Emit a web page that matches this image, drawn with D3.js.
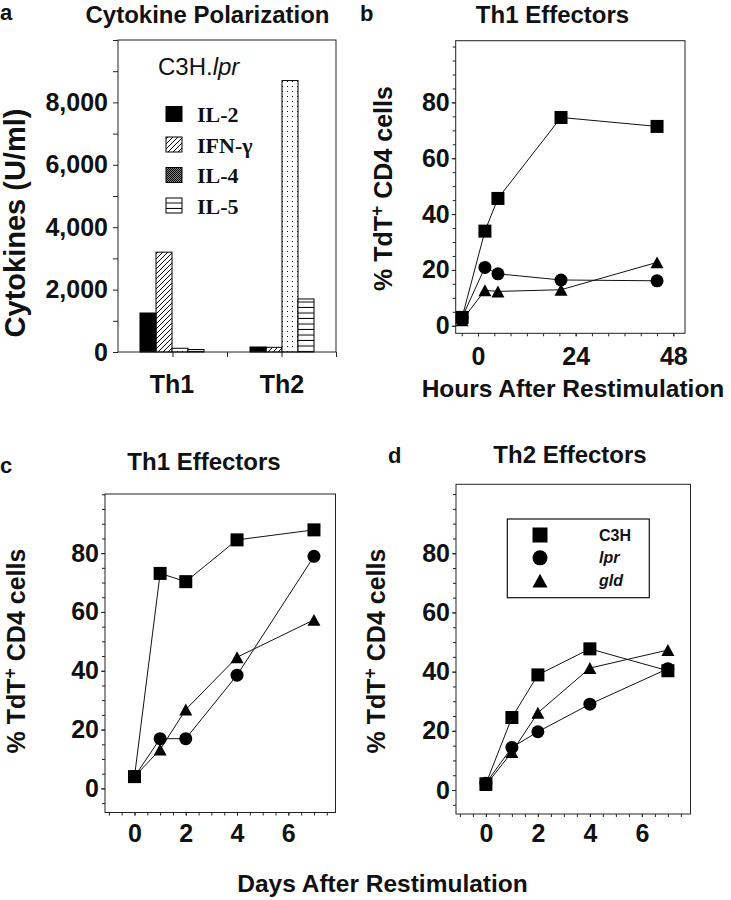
<!DOCTYPE html>
<meta charset="utf-8">
<style>
body { margin: 0; background: #fff; }
svg { display: block; }
.tick line { stroke: #222; }
.axis .domain { display: none; }
.axis text { font-family: 'Liberation Sans', Arial, Helvetica, sans-serif; font-weight: bold; fill: #111; }
</style>
<body>
<script src="https://d3js.org/d3.v7.min.js"></script>
<script>

// ---- data ----
var groups = ["Th1", "Th2"];
var cytokines = ["IL-2", "IFN-\u03b3", "IL-4", "IL-5"];
var cytoTh1 = [1250, 3200, 120, 80];
var cytoTh2 = [160, 150, 8700, 1700];

var strains = ["C3H", "lpr", "gld"];

// panel b: hours after restimulation
var hoursB = [-3.9, 1.7, 4.9, 20.4, 44];
var bC3H = [3, 33.9, 45.6, 74.6, 71.4];
var bLpr = [3, 20.9, 18.6, 16.4, 16.1];
var bGld = [2, 12.7, 12.3, 12.9, 22.7];

// panels c, d: days after restimulation
var days = [0, 1, 2, 4, 7];
var cC3H = [4, 73.1, 70.3, 84.5, 87.9];
var cLpr = [4, 16.9, 16.9, 38.5, 78.9];
var cGld = [4, 13.2, 26.8, 44.6, 57.3];
var dC3H = [2.1, 24.5, 38.9, 47.7, 40.3];
var dLpr = [2.3, 14.4, 19.7, 29, 41];
var dGld = [1.7, 12.8, 26.1, 41.2, 47.3];

var hourLabels = [0, 24, 48];
var dayLabels = [0, 2, 4, 6];
var pctLabels = [0, 20, 40, 60, 80];

var SANS = "'Liberation Sans', Arial, Helvetica, sans-serif";
var SERIF = "'Liberation Serif', 'Times New Roman', serif";

var svg = d3.select("body").append("svg")
  .attr("width", 731)
  .attr("height", 900);

svg.append("rect").attr("width", 731).attr("height", 900).attr("fill", "#fff");

// ---- patterns for the cytokine bars ----
var defs = svg.append("defs");
defs.append("pattern").attr("id", "hatch")
  .attr("patternUnits", "userSpaceOnUse").attr("width", 5).attr("height", 5)
  .append("path")
  .attr("d", "M-1,1 l2,-2 M0,5 l5,-5 M4,6 l2,-2")
  .attr("stroke", "#000").attr("stroke-width", 1);
var dots = defs.append("pattern").attr("id", "dots")
  .attr("patternUnits", "userSpaceOnUse").attr("width", 5).attr("height", 5);
dots.append("rect").attr("width", 5).attr("height", 5).attr("fill", "#fff");
dots.append("rect").attr("x", 2).attr("y", 1).attr("width", 1).attr("height", 1).attr("fill", "#000");
var dense = defs.append("pattern").attr("id", "dense")
  .attr("patternUnits", "userSpaceOnUse").attr("width", 2).attr("height", 2);
dense.append("rect").attr("width", 2).attr("height", 2).attr("fill", "#888");
dense.append("rect").attr("width", 1).attr("height", 1).attr("fill", "#000");
dense.append("rect").attr("x", 1).attr("y", 1).attr("width", 1).attr("height", 1).attr("fill", "#000");
var hl = defs.append("pattern").attr("id", "hlines")
  .attr("patternUnits", "userSpaceOnUse").attr("width", 6).attr("height", 5.5);
hl.append("rect").attr("width", 6).attr("height", 5.5).attr("fill", "#fff");
hl.append("line").attr("x1", 0).attr("x2", 6).attr("y1", 5).attr("y2", 5)
  .attr("stroke", "#000").attr("stroke-width", 1);

var barFill = d3.scaleOrdinal().domain(cytokines)
  .range(["#000", "url(#hatch)", "url(#dots)", "url(#hlines)"]);
var keyFill = d3.scaleOrdinal().domain(cytokines)
  .range(["#000", "url(#hatch)", "url(#dense)", "url(#hlines)"]);

function txt(x, y, s, size, opts) {
  opts = opts || {};
  return svg.append("text")
    .attr("x", x).attr("y", y)
    .attr("text-anchor", opts.anchor || "start")
    .style("font-family", opts.family || SANS)
    .style("font-weight", opts.weight || "bold")
    .style("font-size", size + "px")
    .attr("fill", "#111")
    .text(s);
}

function yTitle(x, y, size) {
  var t = svg.append("text")
    .attr("transform", "translate(" + x + "," + y + ") rotate(-90)")
    .attr("text-anchor", "middle")
    .style("font-family", SANS).style("font-weight", "bold")
    .style("font-size", size + "px")
    .attr("fill", "#111");
  t.append("tspan").text("% TdT");
  t.append("tspan").attr("dy", -9).style("font-size", "70%").text("+");
  t.append("tspan").attr("dy", 9).text(" CD4 cells");
}

function frame(x0, y0, x1, y1) {
  svg.append("rect")
    .attr("x", x0).attr("y", y0)
    .attr("width", x1 - x0).attr("height", y1 - y0)
    .attr("fill", "none").attr("stroke", "#222").attr("stroke-width", 1);
}

function mark(g, shape, cx, cy, s) {
  if (shape === "square") {
    g.append("rect").attr("x", cx - s / 2).attr("y", cy - s / 2)
      .attr("width", s).attr("height", s).attr("fill", "#000");
  } else if (shape === "circle") {
    g.append("circle").attr("cx", cx).attr("cy", cy).attr("r", s / 2).attr("fill", "#000");
  } else {
    var h = s * 0.92;
    g.append("path")
      .attr("d", "M" + cx + "," + (cy - h / 2) + "L" + (cx + s / 2) + "," + (cy + h / 2) +
        "L" + (cx - s / 2) + "," + (cy + h / 2) + "Z")
      .attr("fill", "#000");
  }
}

// ================= panel a =================
var ya = d3.scaleLinear().domain([0, 10000]).range([352, 40]);
var xa = d3.scaleBand().domain(groups).range([118, 336]).paddingInner(0.418).paddingOuter(0.2);
var xsub = d3.scaleBand().domain(cytokines).range([0, xa.bandwidth()]);
var cytoValues = { Th1: cytoTh1, Th2: cytoTh2 };

svg.append("g").attr("class", "axis")
  .attr("transform", "translate(118,0)")
  .call(d3.axisLeft(ya).tickValues(d3.range(0, 10001, 1000)).tickSize(5).tickPadding(5)
    .tickFormat(function(d) { return (d % 2000 === 0 && d < 10000) ? d3.format(",")(d) : ""; }))
  .selectAll("text").style("font-size", "25px");

var xq = d3.scaleLinear().domain([0, 4]).range([118, 336]);
svg.append("g").attr("class", "axis")
  .attr("transform", "translate(0,352)")
  .call(d3.axisBottom(xq).tickValues([1, 2, 3, 4]).tickSize(5).tickFormat(""));

groups.forEach(function(grp) {
  var gg = svg.append("g").attr("transform", "translate(" + xa(grp) + ",0)");
  gg.selectAll("rect").data(cytoValues[grp]).enter().append("rect")
    .attr("x", function(d, i) { return xsub(cytokines[i]); })
    .attr("y", function(d) { return ya(d); })
    .attr("width", xsub.bandwidth())
    .attr("height", function(d) { return ya(0) - ya(d); })
    .attr("fill", function(d, i) { return barFill(cytokines[i]); })
    .attr("stroke", "#000").attr("stroke-width", 1);
  txt(xa(grp) + xa.bandwidth() / 2, 393, grp, 25, { anchor: "middle" });
});
frame(118, 40, 336, 352);

// legend a
var ct = txt(158, 75, "C3H.", 24, { weight: "normal" });
ct.append("tspan").style("font-style", "italic").text("lpr");
var keyY = d3.scalePoint().domain(cytokines).range([114, 205.5]);
cytokines.forEach(function(c) {
  svg.append("rect")
    .attr("x", 166).attr("y", keyY(c) - 7.5).attr("width", 16).attr("height", 15)
    .attr("fill", keyFill(c)).attr("stroke", "#000").attr("stroke-width", 1);
  txt(197, keyY(c) + 8, c, 22, { family: SERIF });
});

txt(0, 20, "a", 22);
txt(207.5, 23, "Cytokine Polarization", 24, { anchor: "middle" });
svg.append("text")
  .attr("transform", "translate(25,223) rotate(-90)")
  .attr("text-anchor", "middle")
  .style("font-family", SANS).style("font-weight", "bold").style("font-size", "29px")
  .attr("fill", "#111")
  .text("Cytokines (U/ml)");

// ================= line panels =================
function linePanel(p) {
  var x = d3.scaleLinear().domain(p.xDomain).range([p.left, p.right]);
  var y = d3.scaleLinear().domain(p.yDomain).range([p.bottom, p.top]);

  var yMinor = d3.range(Math.ceil(p.yDomain[0] / 5) * 5, p.yDomain[1], 5);
  svg.append("g").attr("class", "axis")
    .attr("transform", "translate(" + p.left + ",0)")
    .call(d3.axisLeft(y).tickValues(yMinor).tickSize(3).tickFormat(""));
  svg.append("g").attr("class", "axis")
    .attr("transform", "translate(" + p.left + ",0)")
    .call(d3.axisLeft(y).tickValues(pctLabels).tickSize(4).tickPadding(2))
    .selectAll("text").style("font-size", "25px");

  var xMinor = d3.range(Math.ceil(p.xDomain[0] / p.xStep) * p.xStep, p.xDomain[1], p.xStep);
  svg.append("g").attr("class", "axis")
    .attr("transform", "translate(0," + p.bottom + ")")
    .call(d3.axisBottom(x).tickValues(xMinor).tickSize(3).tickFormat(""));
  svg.append("g").attr("class", "axis")
    .attr("transform", "translate(0," + p.bottom + ")")
    .call(d3.axisBottom(x).tickValues(p.xLabels).tickSize(3).tickPadding(p.xPad))
    .selectAll("text").style("font-size", "25px");

  frame(p.left, p.top, p.right, p.bottom);

  var line = d3.line()
    .x(function(d, i) { return x(p.xs[i]); })
    .y(function(d) { return y(d); });

  var g = svg.append("g");
  p.series.forEach(function(s) {
    g.append("path").attr("d", line(s.values))
      .attr("fill", "none").attr("stroke", "#111").attr("stroke-width", 1);
  });
  p.series.forEach(function(s) {
    s.values.forEach(function(v, i) {
      mark(g, s.shape, x(p.xs[i]), y(v), 13);
    });
  });
}

linePanel({
  left: 455.7, right: 685, top: 40.7, bottom: 333.3,
  xDomain: [-5.48, 50.87], yDomain: [-2.7, 102.1],
  xStep: 4, xLabels: hourLabels, xPad: 11,
  xs: hoursB,
  series: [
    { shape: "triangle", values: bGld },
    { shape: "circle", values: bLpr },
    { shape: "square", values: bC3H }
  ]
});
txt(360, 21, "b", 22);
txt(552.5, 23, "Th1 Effectors", 24, { anchor: "middle" });
yTitle(392, 188.5, 25);
txt(573, 396.7, "Hours After Restimulation", 24.5, { anchor: "middle" });

linePanel({
  left: 105, right: 335.5, top: 494, bottom: 812.5,
  xDomain: [-1.15, 7.84], yDomain: [-8.2, 100.1],
  xStep: 0.5, xLabels: dayLabels, xPad: 8.5,
  xs: days,
  series: [
    { shape: "triangle", values: cGld },
    { shape: "circle", values: cLpr },
    { shape: "square", values: cC3H }
  ]
});
txt(0, 473, "c", 22);
txt(204, 470, "Th1 Effectors", 24, { anchor: "middle" });
yTitle(25, 651, 25);

linePanel({
  left: 456, right: 690.5, top: 484.3, bottom: 814,
  xDomain: [-1.15, 7.87], yDomain: [-8.1, 103.3],
  xStep: 0.5, xLabels: dayLabels, xPad: 7.5,
  xs: days,
  series: [
    { shape: "triangle", values: dGld },
    { shape: "circle", values: dLpr },
    { shape: "square", values: dC3H }
  ]
});
txt(388, 463, "d", 22);
txt(570, 463, "Th2 Effectors", 24, { anchor: "middle" });
yTitle(385, 651, 25);

// legend d
svg.append("rect")
  .attr("x", 507.3).attr("y", 519).attr("width", 142).attr("height", 78.7)
  .attr("fill", "#fff").attr("stroke", "#111").attr("stroke-width", 1.2);
var legY = d3.scalePoint().domain(strains).range([535, 580.7]);
var legShape = d3.scaleOrdinal().domain(strains).range(["square", "circle", "triangle"]);
var lg = svg.append("g");
strains.forEach(function(s, i) {
  mark(lg, legShape(s), 540, legY(s), 15);
  var t = txt(599, legY(s) + 5.5, s, 16);
  if (i > 0) t.style("font-style", "italic");
});

txt(382.5, 891.7, "Days After Restimulation", 24.5, { anchor: "middle" });

</script>
</body>
